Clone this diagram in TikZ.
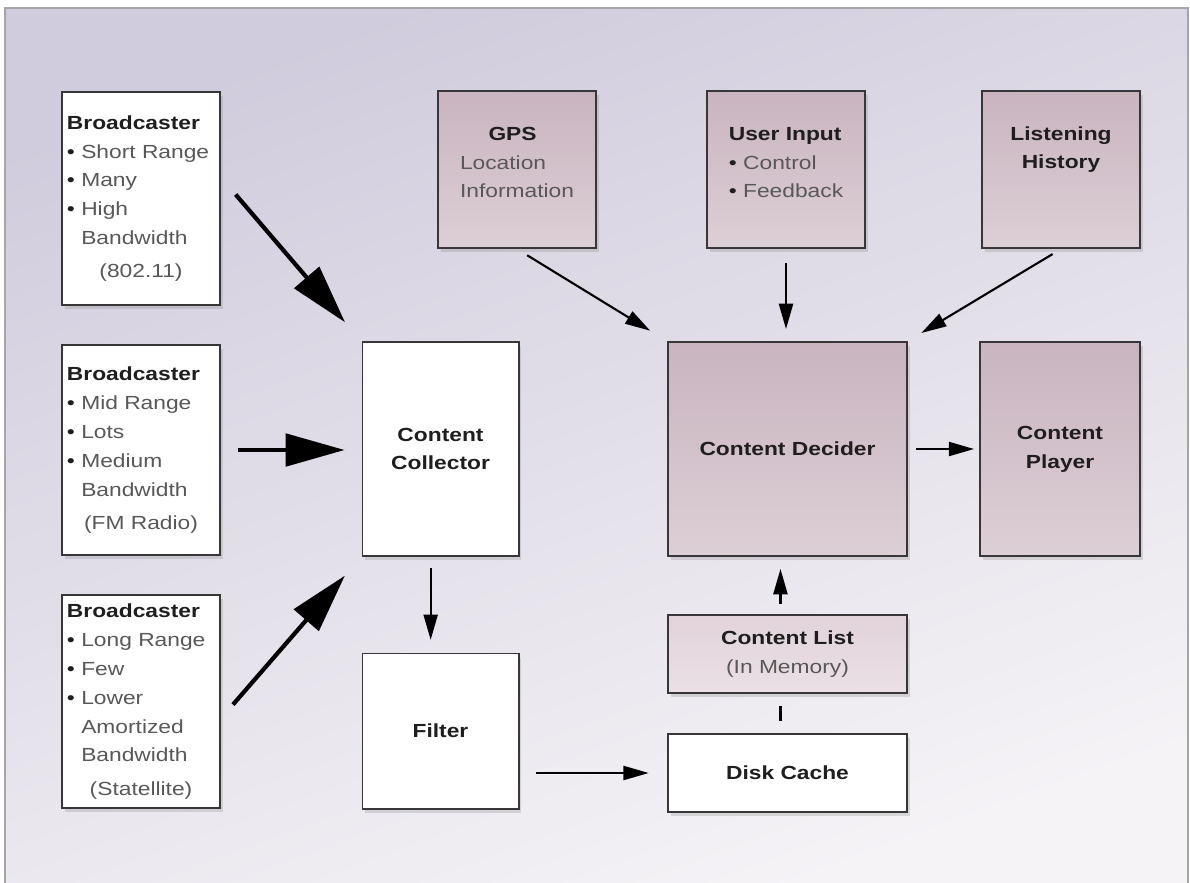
\documentclass[tikz,border=0pt]{standalone}
\usepackage{fontspec}
\setmainfont{Liberation Sans}[FakeStretch=1.2]
\usetikzlibrary{arrows.meta}
\usetikzlibrary{shadows}
\definecolor{bgtop}{RGB}{209,204,221}
\definecolor{bgbot}{RGB}{245,243,246}
\definecolor{mauvetop}{RGB}{201,180,191}
\definecolor{mauvebot}{RGB}{221,207,214}
\definecolor{listtop}{RGB}{226,211,218}
\definecolor{listbot}{RGB}{234,224,229}
\definecolor{edgegray}{RGB}{55,55,55}
\definecolor{txtgray}{RGB}{88,88,88}
\definecolor{titlegray}{RGB}{30,30,30}

\begin{document}
\begin{tikzpicture}[x=0.025cm, y=-0.025cm,
  box/.style={draw=edgegray, line width=1.4pt, inner sep=2pt,
    font=\fontsize{13.5}{20.5}\selectfont, text=titlegray,
    drop shadow={shadow xshift=2pt, shadow yshift=-3pt, opacity=0.25}},
  whitebox/.style={box, fill=white},
  mauvebox/.style={box, top color=mauvetop, bottom color=mauvebot},
  bcbox/.style={whitebox, minimum width=3.95cm, text width=3.7cm, align=left},
  topbox/.style={mauvebox, minimum width=3.95cm, minimum height=3.925cm},
  bigarrow/.style={line width=3pt, -{Triangle[length=42pt, width=23pt]}},
  thinarrow/.style={line width=1.5pt, -{Triangle[length=18pt, width=10pt]}}]
\useasboundingbox (0,0) rectangle (1190,882);
%% background
\fill[white] (0,0) rectangle (1190,882);
\shade[top color=bgtop, bottom color=bgbot, shading angle=20, draw=gray!70, line width=0.8pt] (5,8) rectangle (1188,892);
%% broadcasters
\node[bcbox, minimum height=5.325cm] (bshort) at (141,198.5) {\textbf{Broadcaster}\\
  \textbullet\ {\color{txtgray}Short Range}\\
  \textbullet\ {\color{txtgray}Many}\\
  \textbullet\ {\color{txtgray}High}\\
  \phantom{\textbullet\ }{\color{txtgray}Bandwidth}\\[3pt]
  \makebox[\hsize]{\color{txtgray}(802.11)}};
\node[bcbox, minimum height=5.25cm] (bmid) at (141,450) {\textbf{Broadcaster}\\
  \textbullet\ {\color{txtgray}Mid Range}\\
  \textbullet\ {\color{txtgray}Lots}\\
  \textbullet\ {\color{txtgray}Medium}\\
  \phantom{\textbullet\ }{\color{txtgray}Bandwidth}\\[3pt]
  \makebox[\hsize]{\color{txtgray}(FM Radio)}};
\node[bcbox, minimum height=5.325cm] (blong) at (141,701.5) {\textbf{Broadcaster}\\
  \textbullet\ {\color{txtgray}Long Range}\\
  \textbullet\ {\color{txtgray}Few}\\
  \textbullet\ {\color{txtgray}Lower}\\
  \phantom{\textbullet\ }{\color{txtgray}Amortized}\\
  \phantom{\textbullet\ }{\color{txtgray}Bandwidth}\\[3pt]
  \makebox[\hsize]{\color{txtgray}(Statellite)}};
%% collector and filter
\node[whitebox, minimum width=3.9cm, minimum height=5.325cm, align=center] (collector) at (440.5,449) {\textbf{Content}\\\textbf{Collector}};
\node[whitebox, minimum width=3.9cm, minimum height=3.875cm] (filter) at (440.5,731) {\textbf{Filter}};
%% inputs on top (empty last line lifts the text)
\node[topbox, align=left] (gps) at (517,169.5) {\hspace*{1.5em}\textbf{GPS}\\{\color{txtgray}Location}\\{\color{txtgray}Information}\\[-10.5pt]\mbox{}};
\node[topbox, align=left] (user) at (786,169.5) {\textbf{User Input}\\\textbullet\ {\color{txtgray}Control}\\\textbullet\ {\color{txtgray}Feedback}\\[-10.5pt]\mbox{}};
\node[topbox, align=center] (history) at (1061,169.5) {\textbf{Listening}\\\textbf{History}\\[10.5pt]\mbox{}};
%% decider side
\node[mauvebox, minimum width=5.975cm, minimum height=5.35cm] (decider) at (787.5,449) {\textbf{Content Decider}};
\node[mauvebox, minimum width=4cm, minimum height=5.35cm, align=center] (player) at (1060,449) {\textbf{Content}\\\textbf{Player}};
\node[box, top color=listtop, bottom color=listbot, minimum width=5.975cm, minimum height=1.95cm, align=center] (clist) at (787.5,654) {\textbf{Content List}\\{\color{txtgray}(In Memory)}};
\node[whitebox, minimum width=5.975cm, minimum height=1.95cm] (disk) at (787.5,773) {\textbf{Disk Cache}};
%% big arrows into the collector
\draw[bigarrow, shorten <=16pt, shorten >=18pt] ([yshift=15pt]bshort.east) -- (collector.north west);
\draw[bigarrow, shorten <=12pt, shorten >=12pt] (bmid.east) -- (bmid.east -| collector.west);
\draw[bigarrow, shorten <=13pt, shorten >=18pt] ([yshift=-12pt]blong.east) -- (collector.south west);
%% thin arrows
\draw[thinarrow, shorten <=8.5pt, shorten >=9pt] ([xshift=-7pt]collector.south) -- ([xshift=-7pt]filter.north);
\draw[thinarrow, shorten <=12pt, shorten >=13pt] (filter.east |- disk.west) -- (disk.west);
\draw[line width=1.5pt, shorten <=8.5pt, shorten >=8.5pt] ([xshift=-5pt]disk.north) -- ([xshift=-5pt]clist.south);
\draw[thinarrow, shorten <=7pt, shorten >=8.5pt] ([xshift=-5pt]clist.north) -- ([xshift=-5pt]decider.south);
\draw[thinarrow, shorten <=8.5pt, shorten >=14pt] (gps.south) -- (decider.north west);
\draw[thinarrow, shorten <=10pt, shorten >=8.5pt] (user.south) -- (user.south |- decider.north);
\draw[thinarrow, shorten <=7pt, shorten >=11pt] (history.south) -- (decider.north east);
\draw[thinarrow, shorten <=5.5pt, shorten >=3.5pt] (decider.east) -- (decider.east -| player.west);
\end{tikzpicture}
\end{document}
